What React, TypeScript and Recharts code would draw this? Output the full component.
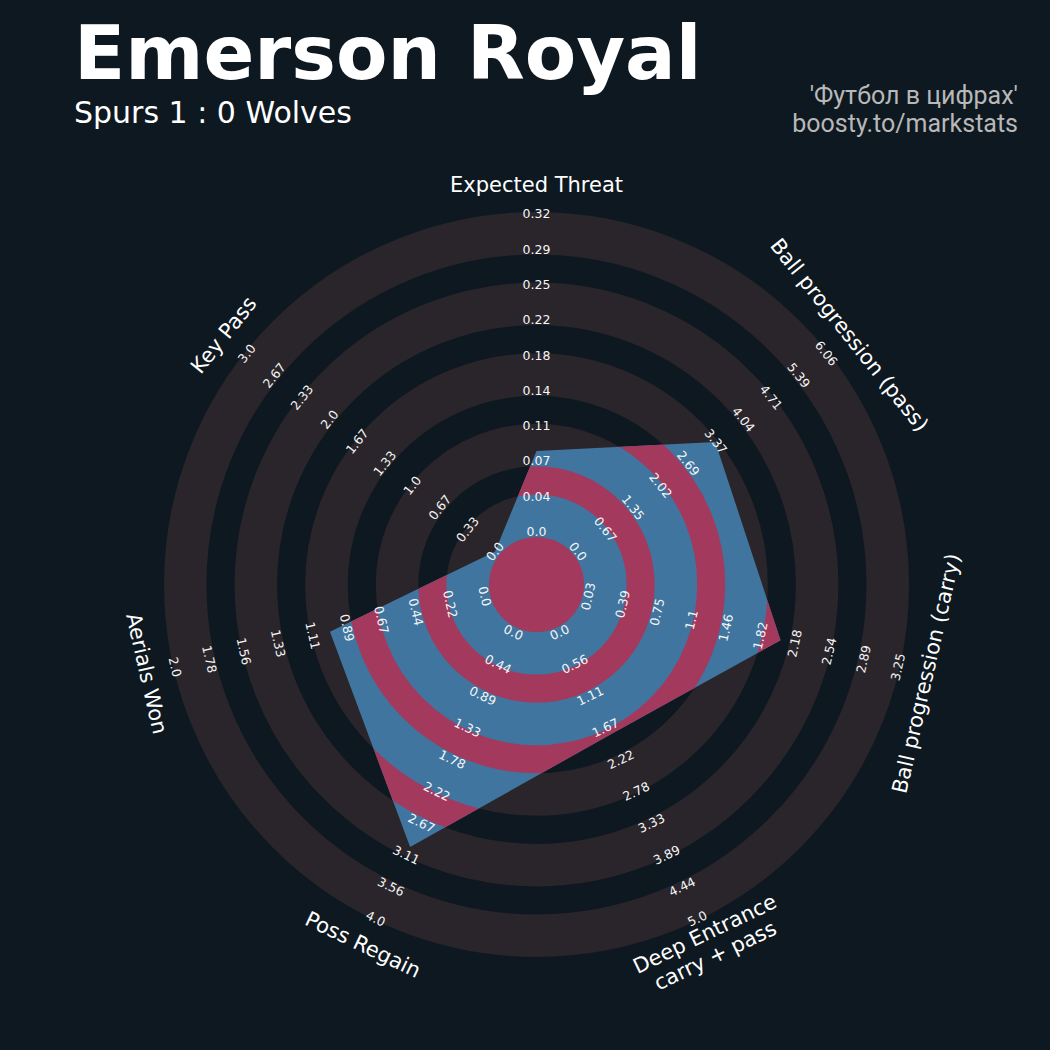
import { RadarChart, Radar, PolarGrid, PolarAngleAxis, PolarRadiusAxis } from "recharts"

const params = [
  "Expected Threat",
  "Ball progression (pass)",
  "Ball progression (carry)",
  "Deep Entrance\ncarry + pass",
  "Poss Regain",
  "Aerials Won",
  "Key Pass",
]
const values = [0.081, 3.35, 2.03, 1.8, 3.0, 1.0, 0.0]
const lowRange = [0, 0, 0.03, 0, 0, 0, 0]
const highRange = [0.32, 6.06, 3.25, 5.0, 4.0, 2.0, 3.0]
const rangeLabels = [
  ["0.0", "0.04", "0.07", "0.11", "0.14", "0.18", "0.22", "0.25", "0.29", "0.32"],
  ["0.0", "0.67", "1.35", "2.02", "2.69", "3.37", "4.04", "4.71", "5.39", "6.06"],
  ["0.03", "0.39", "0.75", "1.1", "1.46", "1.82", "2.18", "2.54", "2.89", "3.25"],
  ["0.0", "0.56", "1.11", "1.67", "2.22", "2.78", "3.33", "3.89", "4.44", "5.0"],
  ["0.0", "0.44", "0.89", "1.33", "1.78", "2.22", "2.67", "3.11", "3.56", "4.0"],
  ["0.0", "0.22", "0.44", "0.67", "0.89", "1.11", "1.33", "1.56", "1.78", "2.0"],
  ["0.0", "0.33", "0.67", "1.0", "1.33", "1.67", "2.0", "2.33", "2.67", "3.0"],
]

const BG = "#0e1820"
const RING = "#29252b"
const BLUE = "#4075a0"
const PINK = "#a33a5e"

// chart geometry
const CX = 536.5
const CY = 584.5
const INNER = 53
const OUTER = 370.7
// ring layout (gray bands outside, pink bands inside the radar)
const RING_OUT = 372.5
const RING_W = 42.5
const GAP_W = 28.1
const PERIOD = RING_W + GAP_W
const CENTER_R = 47.6
const grayRadii = [0, 1, 2, 3, 4].map((k) => RING_OUT - RING_W / 2 - k * PERIOD)
const pinkRadii = [0, 1, 2, 3].map((k) => RING_OUT - RING_W - GAP_W / 2 - k * PERIOD)

const data = params.map((p, i) => ({
  param: p,
  value: (values[i] - lowRange[i]) / (highRange[i] - lowRange[i]),
}))

const rot = (angle: number) => {
  let r = 90 - angle
  while (r > 180) r -= 360
  while (r <= -180) r += 360
  if (r > 90) r -= 180
  if (r < -90) r += 180
  return r
}

const AxisTick = (props: any) => {
  const { payload } = props
  const idx = params.indexOf(payload.value)
  const angle = payload.coordinate
  const rad = (angle * Math.PI) / 180
  const r = rot(angle)
  const pos = (radius: number) => ({
    x: CX + radius * Math.cos(rad),
    y: CY - radius * Math.sin(rad),
  })
  const lp = pos(400)
  const lines = String(payload.value).split("\n")
  return (
    <g>
      {rangeLabels[idx].map((lab, k) => {
        const p = pos(INNER + ((OUTER - INNER) * k) / 9)
        return (
          <text
            key={k}
            x={p.x}
            y={p.y}
            fill="#f5f5f5"
            fontSize={12.5}
            fontFamily="DejaVu Sans"
            textAnchor="middle"
            dominantBaseline="central"
            transform={`rotate(${r}, ${p.x}, ${p.y})`}
          >
            {lab}
          </text>
        )
      })}
      <text
        x={lp.x}
        y={lp.y}
        fill="#ffffff"
        fontSize={21}
        fontFamily="DejaVu Sans"
        textAnchor="middle"
        dominantBaseline="central"
        transform={`rotate(${r}, ${lp.x}, ${lp.y})`}
      >
        {lines.map((ln, j) => (
          <tspan key={j} x={lp.x} dy={j === 0 ? -(lines.length - 1) * 12 : 24}>
            {ln}
          </tspan>
        ))}
      </text>
    </g>
  )
}

const RadarShape = (props: any) => {
  const pts = props.points as { x: number; y: number }[]
  const d = pts.map((p, i) => `${i ? "L" : "M"}${p.x},${p.y}`).join(" ") + " Z"
  return (
    <g>
      <defs>
        <clipPath id="radar-clip">
          <path d={d} />
        </clipPath>
      </defs>
      <path d={d} fill={BLUE} />
      <g clipPath="url(#radar-clip)">
        <circle cx={CX} cy={CY} r={CENTER_R} fill={PINK} />
        {pinkRadii.map((rr, i) => (
          <circle key={i} cx={CX} cy={CY} r={rr} fill="none" stroke={PINK} strokeWidth={GAP_W} />
        ))}
      </g>
    </g>
  )
}

export default function App() {
  return (
    <div style={{ position: "absolute", left: 0, top: 0, width: 1050, height: 1050, background: BG }}>
      <RadarChart
        width={1050}
        height={1050}
        cx={CX}
        cy={CY}
        innerRadius={INNER}
        outerRadius={OUTER}
        data={data}
        margin={{ top: 0, right: 0, bottom: 0, left: 0 }}
      >
        <PolarGrid
          gridType="circle"
          radialLines={false}
          polarRadius={grayRadii}
          stroke={RING}
          strokeWidth={RING_W}
        />
        <PolarRadiusAxis domain={[0, 1]} tick={false} axisLine={false} />
        <Radar dataKey="value" shape={<RadarShape />} isAnimationActive={false} />
        <PolarAngleAxis dataKey="param" tick={<AxisTick />} axisLine={false} tickLine={false} />
      </RadarChart>
      <svg
        width={1050}
        height={1050}
        style={{ position: "absolute", left: 0, top: 0, pointerEvents: "none" }}
      >
        <text x={74} y={79} fill="#ffffff" fontSize={75} fontWeight="bold" fontFamily="DejaVu Sans">
          Emerson Royal
        </text>
        <text x={74} y={123} fill="#ffffff" fontSize={30} fontFamily="DejaVu Sans">
          Spurs 1 : 0 Wolves
        </text>
        <text x={1018} y={104} fill="#b8b8b8" fontSize={25} fontFamily="Roboto" textAnchor="end">
          'Футбол в цифрах'
        </text>
        <text x={1018} y={132} fill="#b8b8b8" fontSize={25} fontFamily="Roboto" textAnchor="end">
          boosty.to/markstats
        </text>
      </svg>
    </div>
  )
}
